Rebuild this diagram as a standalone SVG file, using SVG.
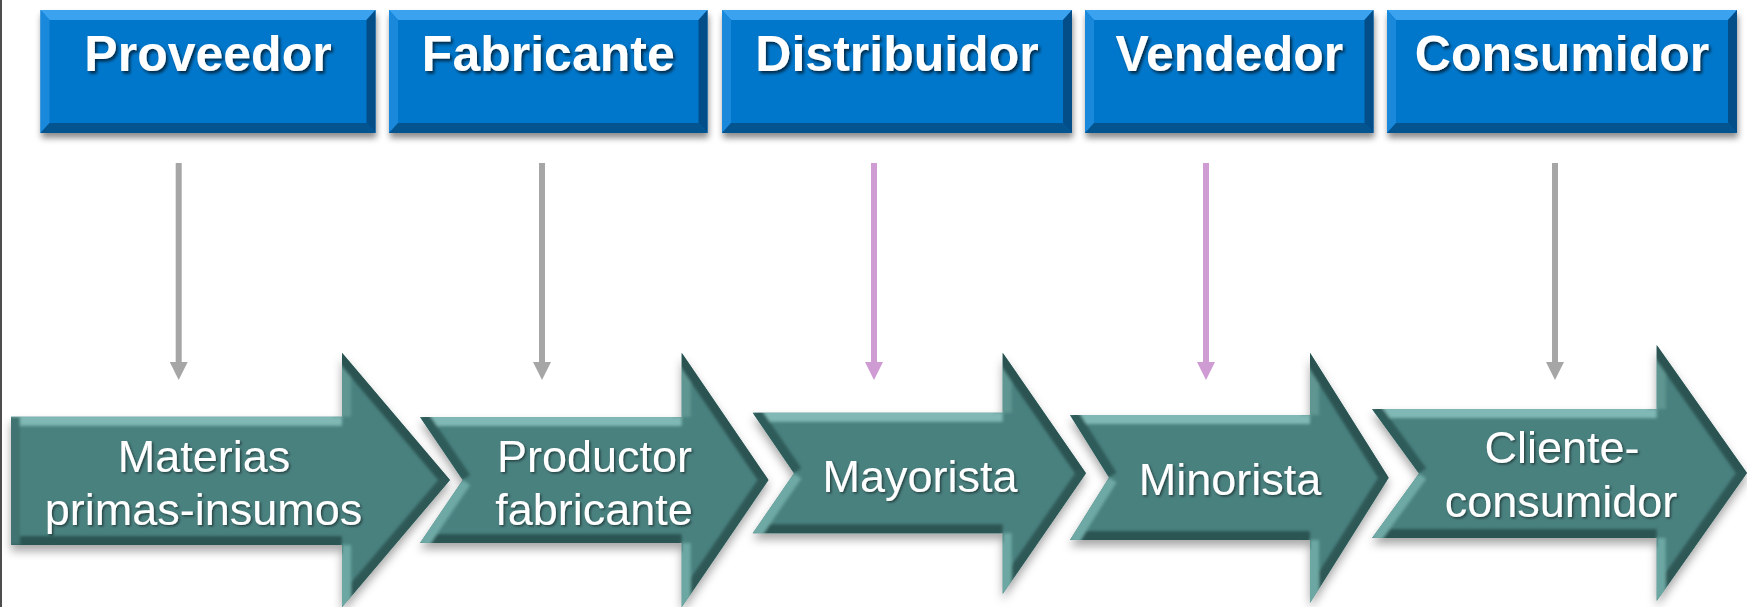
<svg xmlns="http://www.w3.org/2000/svg" width="1747" height="607" viewBox="0 0 1747 607">
<style>
.box{fill:#0577cb}
.bt{fill:#3ba2f0}
.bl{fill:#1a88db}
.br{fill:#034d88}
.bb{fill:#04548f}
.btxt{font-family:"Liberation Sans",Arial,sans-serif;font-weight:bold;font-size:50px;fill:#fff;text-anchor:middle}
.atxt{font-family:"Liberation Sans",Arial,sans-serif;font-size:45px;fill:#fff;text-anchor:middle}
.arr{fill:#4a817f}
.s{stroke-width:18;fill:none}
.top{stroke:#7fb8b4}
.bk1{stroke:#5e9692}
.d1{stroke:#2b5351}
.d2{stroke:#2f5957}
.bk2{stroke:#6ca7a3}
.bot{stroke:#2c5452}
.n2{stroke:#6ea9a5}
.n1{stroke:#2e5c5a}
.lf{stroke:#3f7371}
.gray{stroke:#a6a6a6;stroke-width:6;fill:none}
.pink{stroke:#cf9bd3;stroke-width:6;fill:none}
</style>
<defs>
<filter id="boxsh" x="-5%" y="-10%" width="110%" height="130%">
<feDropShadow dx="1" dy="5" stdDeviation="3" flood-color="#000" flood-opacity="0.45"/>
</filter>
<filter id="arrsh" x="-5%" y="-10%" width="110%" height="130%">
<feDropShadow dx="0" dy="6" stdDeviation="5" flood-color="#000" flood-opacity="0.35"/>
</filter>
<filter id="tsh" x="-10%" y="-20%" width="120%" height="150%">
<feDropShadow dx="2" dy="2.5" stdDeviation="1.5" flood-color="#000" flood-opacity="0.65"/>
</filter>
<filter id="tsh2" x="-10%" y="-20%" width="120%" height="150%">
<feDropShadow dx="1.5" dy="1.5" stdDeviation="1.2" flood-color="#000" flood-opacity="0.5"/>
</filter>
<filter id="soft"><feGaussianBlur stdDeviation="1.6"/></filter>
<marker id="mg" markerUnits="userSpaceOnUse" markerWidth="18" markerHeight="18" refX="0" refY="9" orient="auto">
<path d="M0,0 L18,9 L0,18 Z" fill="#a6a6a6"/>
</marker>
<marker id="mp" markerUnits="userSpaceOnUse" markerWidth="18" markerHeight="18" refX="0" refY="9" orient="auto">
<path d="M0,0 L18,9 L0,18 Z" fill="#cf9bd3"/>
</marker>
<clipPath id="c1"><polygon points="11,416.7 342,416.7 342,352.7 450,480 342,607.3 342,545 11,545"/></clipPath>
<clipPath id="c2"><polygon points="420,417 681.7,417 681.7,352.7 768.5,480 681.7,607.3 681.7,543 420,543 462.7,480"/></clipPath>
<clipPath id="c3"><polygon points="752.7,412.7 1002.7,412.7 1002.7,352.7 1086,473.3 1002.7,594 1002.7,533.3 752.7,533.3 794,473.3"/></clipPath>
<clipPath id="c4"><polygon points="1070,415 1310,415 1310,352.7 1388.7,477.8 1310,603 1310,540 1070,540 1109,477.5"/></clipPath>
<clipPath id="c5"><polygon points="1372,409 1656.7,409 1656.7,345 1747,473 1656.7,601 1656.7,538 1372,538 1419,473.5"/></clipPath>
</defs>
<rect x="0" y="0" width="1747" height="607" fill="#ffffff"/>
<line x1="1" y1="0" x2="1" y2="607" stroke="#4d4d4d" stroke-width="2"/>

<g id="proveedor">
<rect class="box" x="40.5" y="10" width="335" height="123" filter="url(#boxsh)"/>
<polygon class="bt" points="40.5,10 375.5,10 366.5,20 49.5,20"/>
<polygon class="bl" points="40.5,10 49.5,20 49.5,123 40.5,133"/>
<polygon class="br" points="375.5,10 375.5,133 366.5,123 366.5,20"/>
<polygon class="bb" points="40.5,133 375.5,133 366.5,123 49.5,123"/>
<text class="btxt" x="208" y="71" filter="url(#tsh)">Proveedor</text>
</g>
<g id="fabricante">
<rect class="box" x="389" y="10" width="318.5" height="123" filter="url(#boxsh)"/>
<polygon class="bt" points="389,10 707.5,10 698.5,20 398,20"/>
<polygon class="bl" points="389,10 398,20 398,123 389,133"/>
<polygon class="br" points="707.5,10 707.5,133 698.5,123 698.5,20"/>
<polygon class="bb" points="389,133 707.5,133 698.5,123 398,123"/>
<text class="btxt" x="548.3" y="71" filter="url(#tsh)">Fabricante</text>
</g>
<g id="distribuidor">
<rect class="box" x="722" y="10" width="350" height="123" filter="url(#boxsh)"/>
<polygon class="bt" points="722,10 1072,10 1063,20 731,20"/>
<polygon class="bl" points="722,10 731,20 731,123 722,133"/>
<polygon class="br" points="1072,10 1072,133 1063,123 1063,20"/>
<polygon class="bb" points="722,133 1072,133 1063,123 731,123"/>
<text class="btxt" x="897" y="71" filter="url(#tsh)">Distribuidor</text>
</g>
<g id="vendedor">
<rect class="box" x="1085" y="10" width="288.5" height="123" filter="url(#boxsh)"/>
<polygon class="bt" points="1085,10 1373.5,10 1364.5,20 1094,20"/>
<polygon class="bl" points="1085,10 1094,20 1094,123 1085,133"/>
<polygon class="br" points="1373.5,10 1373.5,133 1364.5,123 1364.5,20"/>
<polygon class="bb" points="1085,133 1373.5,133 1364.5,123 1094,123"/>
<text class="btxt" x="1229.3" y="71" filter="url(#tsh)">Vendedor</text>
</g>
<g id="consumidor">
<rect class="box" x="1387" y="10" width="350" height="123" filter="url(#boxsh)"/>
<polygon class="bt" points="1387,10 1737,10 1728,20 1396,20"/>
<polygon class="bl" points="1387,10 1396,20 1396,123 1387,133"/>
<polygon class="br" points="1737,10 1737,133 1728,123 1728,20"/>
<polygon class="bb" points="1387,133 1737,133 1728,123 1396,123"/>
<text class="btxt" x="1562" y="71" filter="url(#tsh)">Consumidor</text>
</g>

<g id="connectors">
<line class="gray" x1="178.7" y1="163" x2="178.7" y2="362" marker-end="url(#mg)"/>
<line class="gray" x1="542" y1="163" x2="542" y2="362" marker-end="url(#mg)"/>
<line class="pink" x1="874" y1="163" x2="874" y2="362" marker-end="url(#mp)"/>
<line class="pink" x1="1206" y1="163" x2="1206" y2="362" marker-end="url(#mp)"/>
<line class="gray" x1="1555" y1="163" x2="1555" y2="362" marker-end="url(#mg)"/>
</g>

<g id="materias">
<polygon class="arr" points="11,416.7 342,416.7 342,352.7 450,480 342,607.3 342,545 11,545" filter="url(#arrsh)"/>
<g clip-path="url(#c1)"><g filter="url(#soft)">
<line class="s top" x1="11" y1="416.7" x2="342" y2="416.7"/>
<line class="s bk1" x1="342" y1="416.7" x2="342" y2="352.7"/>
<line class="s d1" x1="342" y1="352.7" x2="450" y2="480"/>
<line class="s d2" x1="450" y1="480" x2="342" y2="607.3"/>
<line class="s bk2" x1="342" y1="607.3" x2="342" y2="545"/>
<line class="s bot" x1="342" y1="545" x2="11" y2="545"/>
<line class="s lf" x1="11" y1="545" x2="11" y2="416.7"/>
</g></g>
<text class="atxt" x="204" y="472" filter="url(#tsh2)">Materias</text>
<text class="atxt" x="203.5" y="525" filter="url(#tsh2)">primas-insumos</text>
</g>
<g id="productor">
<polygon class="arr" points="420,417 681.7,417 681.7,352.7 768.5,480 681.7,607.3 681.7,543 420,543 462.7,480" filter="url(#arrsh)"/>
<g clip-path="url(#c2)"><g filter="url(#soft)">
<line class="s top" x1="420" y1="417" x2="681.7" y2="417"/>
<line class="s bk1" x1="681.7" y1="417" x2="681.7" y2="352.7"/>
<line class="s d1" x1="681.7" y1="352.7" x2="768.5" y2="480"/>
<line class="s d2" x1="768.5" y1="480" x2="681.7" y2="607.3"/>
<line class="s bk2" x1="681.7" y1="607.3" x2="681.7" y2="543"/>
<line class="s bot" x1="681.7" y1="543" x2="420" y2="543"/>
<line class="s n2" x1="420" y1="543" x2="462.7" y2="480"/>
<line class="s n1" x1="462.7" y1="480" x2="420" y2="417"/>
</g></g>
<text class="atxt" x="594.5" y="472" filter="url(#tsh2)">Productor</text>
<text class="atxt" x="594" y="525" filter="url(#tsh2)">fabricante</text>
</g>
<g id="mayorista">
<polygon class="arr" points="752.7,412.7 1002.7,412.7 1002.7,352.7 1086,473.3 1002.7,594 1002.7,533.3 752.7,533.3 794,473.3" filter="url(#arrsh)"/>
<g clip-path="url(#c3)"><g filter="url(#soft)">
<line class="s top" x1="752.7" y1="412.7" x2="1002.7" y2="412.7"/>
<line class="s bk1" x1="1002.7" y1="412.7" x2="1002.7" y2="352.7"/>
<line class="s d1" x1="1002.7" y1="352.7" x2="1086" y2="473.3"/>
<line class="s d2" x1="1086" y1="473.3" x2="1002.7" y2="594"/>
<line class="s bk2" x1="1002.7" y1="594" x2="1002.7" y2="533.3"/>
<line class="s bot" x1="1002.7" y1="533.3" x2="752.7" y2="533.3"/>
<line class="s n2" x1="752.7" y1="533.3" x2="794" y2="473.3"/>
<line class="s n1" x1="794" y1="473.3" x2="752.7" y2="412.7"/>
</g></g>
<text class="atxt" x="920" y="492" filter="url(#tsh2)">Mayorista</text>
</g>
<g id="minorista">
<polygon class="arr" points="1070,415 1310,415 1310,352.7 1388.7,477.8 1310,603 1310,540 1070,540 1109,477.5" filter="url(#arrsh)"/>
<g clip-path="url(#c4)"><g filter="url(#soft)">
<line class="s top" x1="1070" y1="415" x2="1310" y2="415"/>
<line class="s bk1" x1="1310" y1="415" x2="1310" y2="352.7"/>
<line class="s d1" x1="1310" y1="352.7" x2="1388.7" y2="477.8"/>
<line class="s d2" x1="1388.7" y1="477.8" x2="1310" y2="603"/>
<line class="s bk2" x1="1310" y1="603" x2="1310" y2="540"/>
<line class="s bot" x1="1310" y1="540" x2="1070" y2="540"/>
<line class="s n2" x1="1070" y1="540" x2="1109" y2="477.5"/>
<line class="s n1" x1="1109" y1="477.5" x2="1070" y2="415"/>
</g></g>
<text class="atxt" x="1230" y="495" filter="url(#tsh2)">Minorista</text>
</g>
<g id="cliente">
<polygon class="arr" points="1372,409 1656.7,409 1656.7,345 1747,473 1656.7,601 1656.7,538 1372,538 1419,473.5" filter="url(#arrsh)"/>
<g clip-path="url(#c5)"><g filter="url(#soft)">
<line class="s top" x1="1372" y1="409" x2="1656.7" y2="409"/>
<line class="s bk1" x1="1656.7" y1="409" x2="1656.7" y2="345"/>
<line class="s d1" x1="1656.7" y1="345" x2="1747" y2="473"/>
<line class="s d2" x1="1747" y1="473" x2="1656.7" y2="601"/>
<line class="s bk2" x1="1656.7" y1="601" x2="1656.7" y2="538"/>
<line class="s bot" x1="1656.7" y1="538" x2="1372" y2="538"/>
<line class="s n2" x1="1372" y1="538" x2="1419" y2="473.5"/>
<line class="s n1" x1="1419" y1="473.5" x2="1372" y2="409"/>
</g></g>
<text class="atxt" x="1562" y="463" filter="url(#tsh2)">Cliente-</text>
<text class="atxt" x="1561" y="517" filter="url(#tsh2)">consumidor</text>
</g>
</svg>
